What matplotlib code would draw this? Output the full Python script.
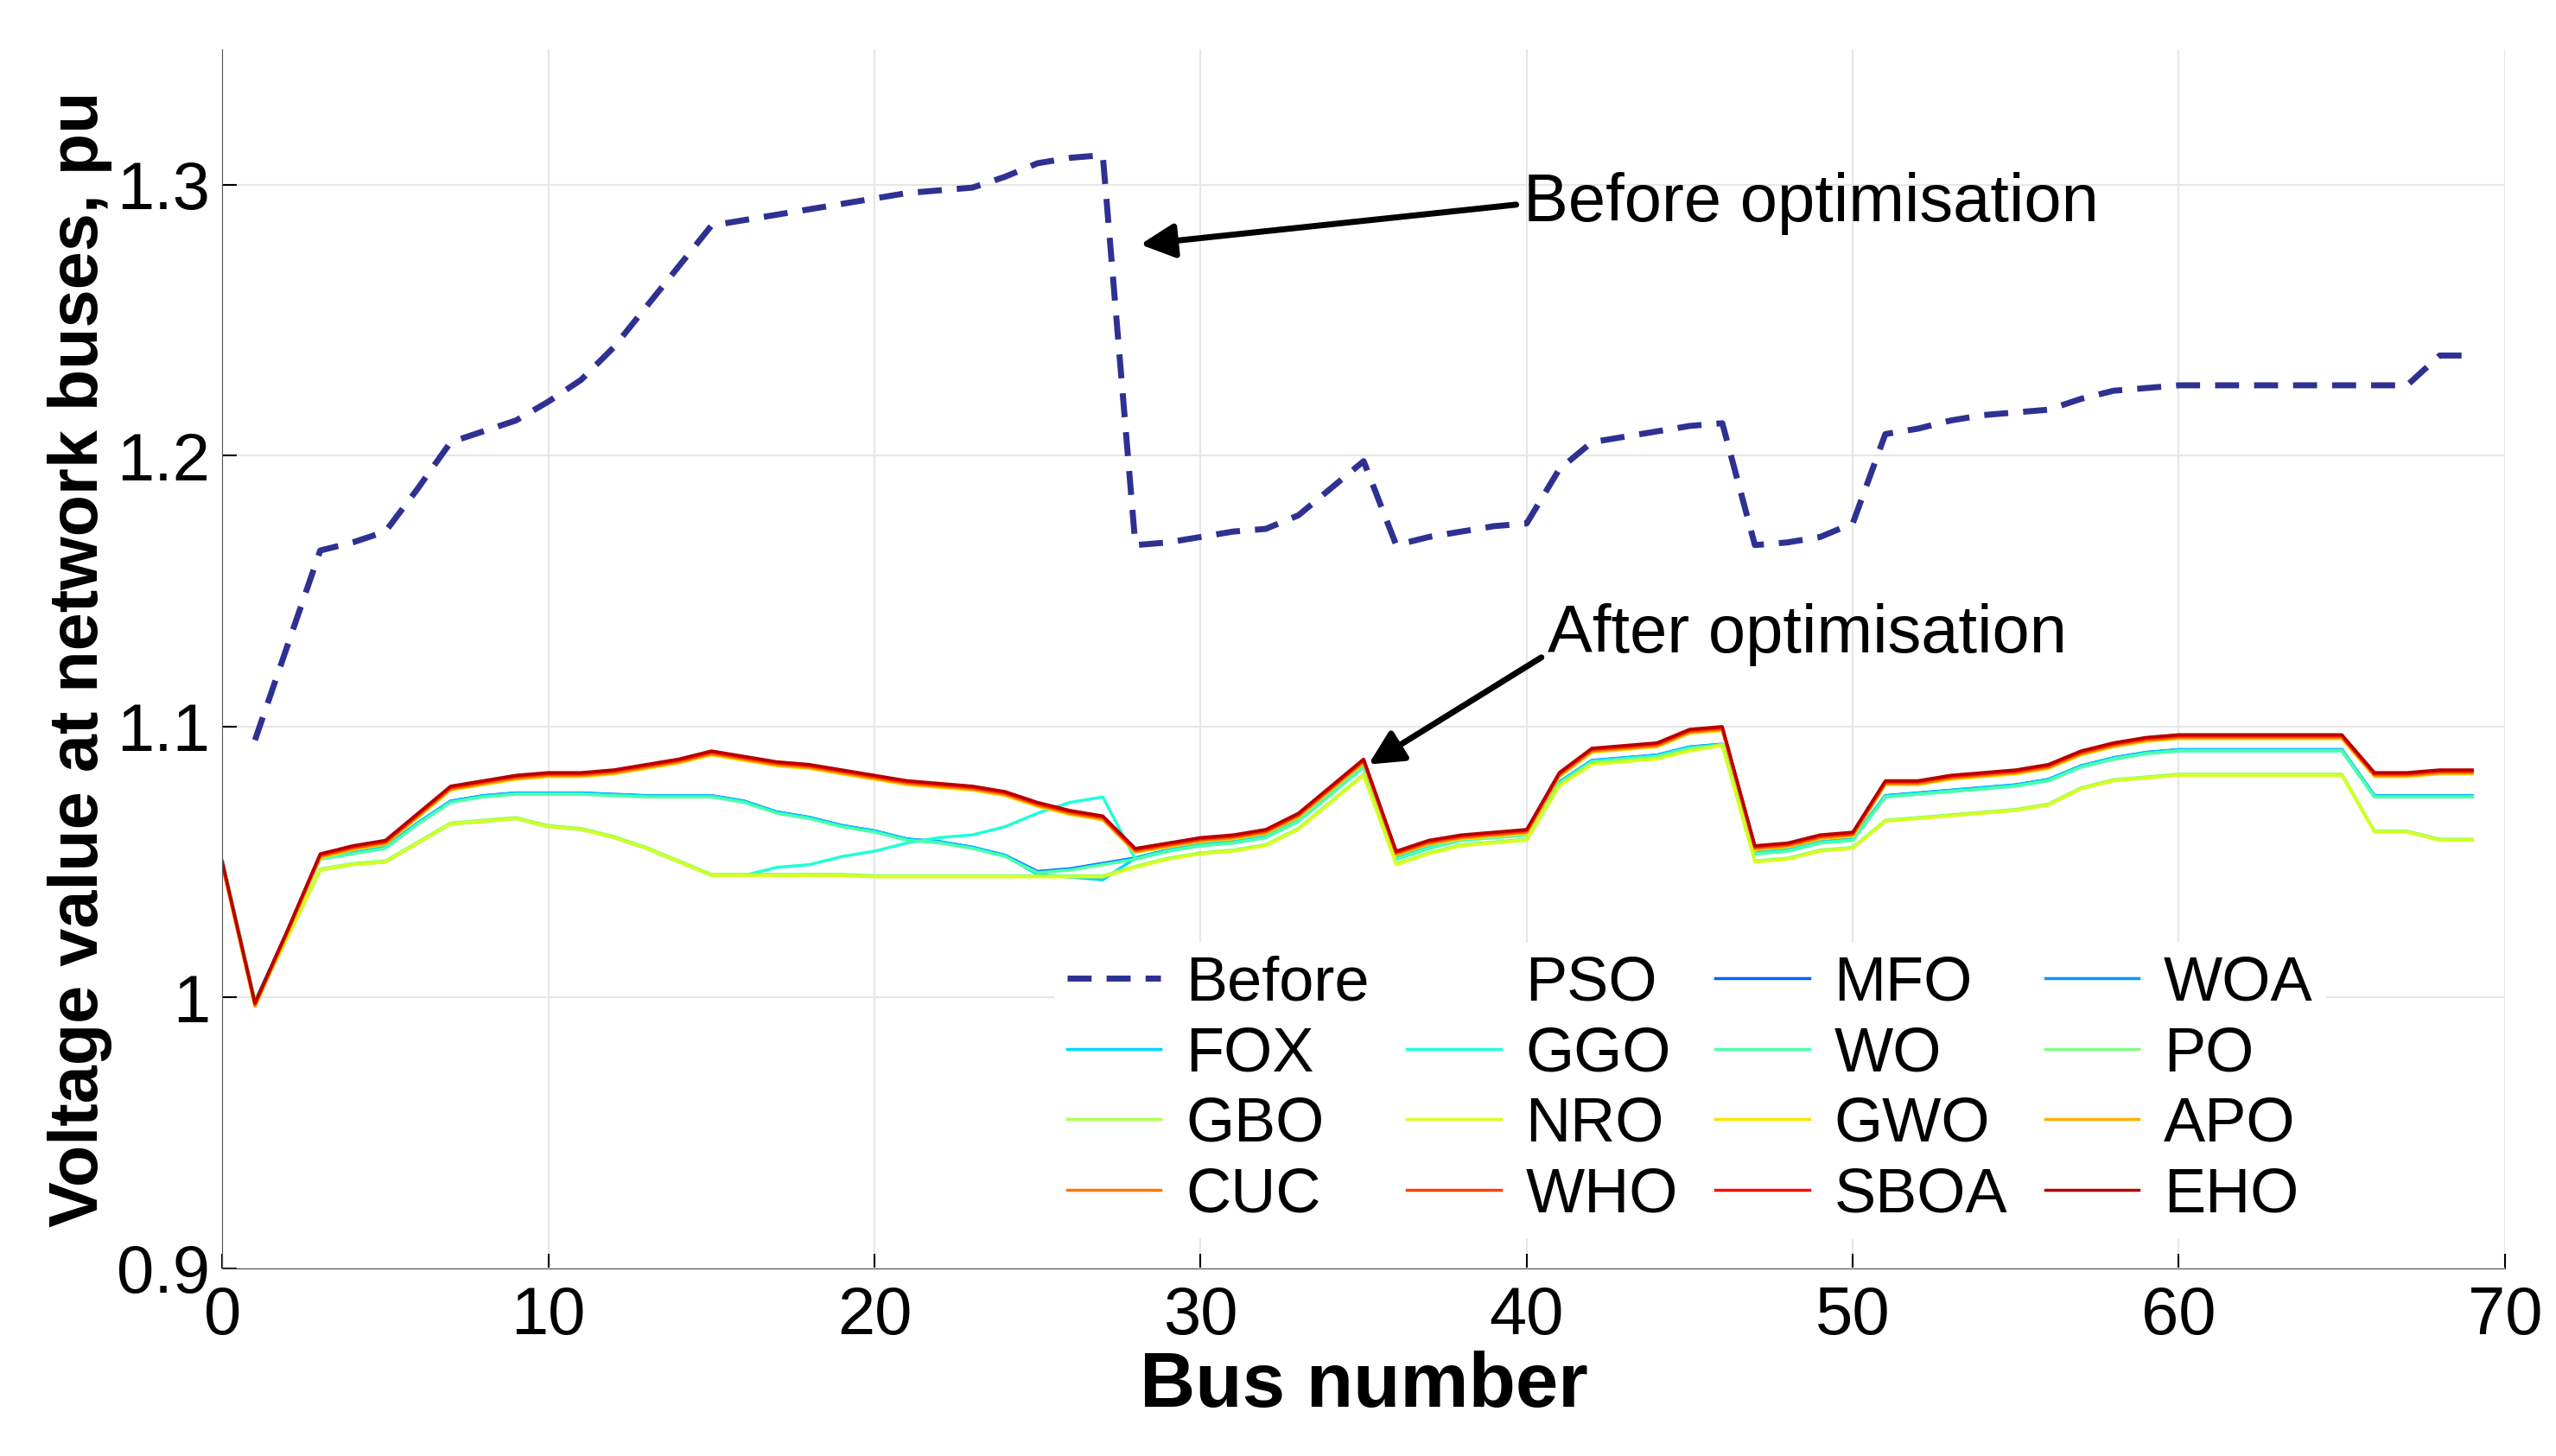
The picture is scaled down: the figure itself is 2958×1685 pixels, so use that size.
import numpy as np
import matplotlib
matplotlib.use("Agg")
import matplotlib.pyplot as plt

plt.rcParams['font.family'] = ['Liberation Sans', 'DejaVu Sans']

# bus numbers
bus = np.arange(0, 70)
bus_before = np.arange(1, 70)

before = [1.095, 1.130, 1.165, 1.168, 1.172, 1.188, 1.205, 1.209, 1.213, 1.220, 1.228, 1.240,
          1.255, 1.270, 1.285, 1.287, 1.289, 1.291, 1.293, 1.295, 1.297, 1.298, 1.299, 1.303,
          1.308, 1.310, 1.311, 1.167, 1.168, 1.170, 1.172, 1.173, 1.178, 1.188, 1.198, 1.167,
          1.170, 1.172, 1.174, 1.175, 1.195, 1.205, 1.207, 1.209, 1.211, 1.212, 1.167, 1.168,
          1.170, 1.175, 1.208, 1.210, 1.213, 1.215, 1.216, 1.217, 1.221, 1.224, 1.225, 1.226,
          1.226, 1.226, 1.226, 1.226, 1.226, 1.226, 1.226, 1.237, 1.237]

# three profiles the algorithms cluster on
high = [1.050, 0.998, 1.025, 1.053, 1.056, 1.058, 1.068, 1.078, 1.080, 1.082, 1.083, 1.083,
        1.084, 1.086, 1.088, 1.091, 1.089, 1.087, 1.086, 1.084, 1.082, 1.080, 1.079, 1.078,
        1.076, 1.072, 1.069, 1.067, 1.055, 1.057, 1.059, 1.060, 1.062, 1.068, 1.078, 1.088,
        1.054, 1.058, 1.060, 1.061, 1.062, 1.083, 1.092, 1.093, 1.094, 1.099, 1.100, 1.056,
        1.057, 1.060, 1.061, 1.080, 1.080, 1.082, 1.083, 1.084, 1.086, 1.091, 1.094, 1.096,
        1.097, 1.097, 1.097, 1.097, 1.097, 1.097, 1.083, 1.083, 1.084, 1.084]
mid = [1.050, 0.998, 1.024, 1.051, 1.053, 1.055, 1.064, 1.072, 1.074, 1.075, 1.075, 1.075,
       1.0745, 1.074, 1.074, 1.074, 1.072, 1.068, 1.066, 1.063, 1.061, 1.058, 1.057, 1.055,
       1.052, 1.046, 1.047, 1.049, 1.051, 1.054, 1.056, 1.057, 1.059, 1.065, 1.075, 1.085,
       1.051, 1.055, 1.058, 1.059, 1.060, 1.079, 1.087, 1.088, 1.089, 1.092, 1.093, 1.053,
       1.054, 1.057, 1.058, 1.074, 1.075, 1.076, 1.077, 1.078, 1.080, 1.085, 1.088, 1.090,
       1.091, 1.091, 1.091, 1.091, 1.091, 1.091, 1.074, 1.074, 1.074, 1.074]
low = [1.050, 0.998, 1.022, 1.047, 1.049, 1.050, 1.057, 1.064, 1.065, 1.066, 1.063, 1.062,
       1.059, 1.055, 1.050, 1.045, 1.045, 1.045, 1.045, 1.045, 1.0445, 1.0445, 1.0445, 1.0445,
       1.0445, 1.0445, 1.0445, 1.0445, 1.048, 1.051, 1.053, 1.054, 1.056, 1.062, 1.072, 1.082,
       1.049, 1.053, 1.056, 1.057, 1.058, 1.078, 1.086, 1.087, 1.088, 1.091, 1.093, 1.050,
       1.051, 1.054, 1.055, 1.065, 1.066, 1.067, 1.068, 1.069, 1.071, 1.077, 1.080, 1.081,
       1.082, 1.082, 1.082, 1.082, 1.082, 1.082, 1.061, 1.061, 1.058, 1.058]
# GGO leaves the low profile and climbs between buses 16 and 27
ggo = low[:16] + [1.045, 1.048, 1.049, 1.052, 1.054, 1.057, 1.059, 1.060, 1.063, 1.068,
                  1.072, 1.074] + mid[28:]
# FOX follows mid then drops between buses 25 and 27
fox = mid[:25] + [1.045, 1.044, 1.043] + mid[28:]

names = ["PSO", "MFO", "WOA", "FOX", "GGO", "WO", "PO", "GBO", "NRO",
         "GWO", "APO", "CUC", "WHO", "SBOA", "EHO"]
series = [high, mid, mid, fox, ggo, mid, low, low, low,
          high, high, high, high, high, high]
offset = [0, 0.0005, 0.0003, 0.0004, 0, 0, 0.0004, 0.0002, 0,
          -0.0015, -0.0012, -0.0009, -0.0006, -0.0003, 0]

fig = plt.figure(figsize=(29.58, 16.85), dpi=100)
ax = fig.add_axes([0.087, 0.129, 0.893, 0.837])

ax.plot(bus_before, before, '--', color='#2e3192', lw=5, dashes=(4, 2.5), label='Before')
cols = plt.cm.jet(np.linspace(0.22, 0.95, len(names) - 1))
for i, n in enumerate(names):
    c = 'white' if n == 'PSO' else cols[i - 1]
    ax.plot(bus, np.array(series[i]) + offset[i], color=c, lw=2.5, label=n)

ax.set_xlim(0, 70)
ax.set_ylim(0.9, 1.35)
ax.set_xticks(np.arange(0, 71, 10))
ax.set_yticks([0.9, 1.0, 1.1, 1.2, 1.3])
ax.set_yticklabels(['0.9', '1', '1.1', '1.2', '1.3'])
ax.tick_params(labelsize=56, direction='in', length=12, width=1.5)
ax.tick_params(axis='x', pad=14)
ax.tick_params(axis='y', pad=10)
ax.grid(True, color='#e6e6e6', lw=1.5)
ax.set_axisbelow(True)
for s in ['top', 'right']:
    ax.spines[s].set_visible(False)
ax.spines['left'].set_color('#555555')
ax.spines['bottom'].set_color('#555555')
ax.set_xlabel('Bus number', fontsize=64, fontweight='bold', labelpad=2)
ax.set_ylabel('Voltage value at network buses, pu', fontsize=57, fontweight='bold', labelpad=4)

ax.annotate('Before optimisation', xy=(28.15, 1.278), xytext=(39.9, 1.293),
            fontsize=56, va='center', ha='left',
            arrowprops=dict(arrowstyle='-|>', color='black', lw=5, mutation_scale=60,
                            relpos=(0, 0.5), shrinkA=4, shrinkB=0))
ax.annotate('After optimisation', xy=(35.15, 1.086), xytext=(40.65, 1.134),
            fontsize=56, va='center', ha='left',
            arrowprops=dict(arrowstyle='-|>', color='black', lw=5, mutation_scale=60,
                            relpos=(0, 0.2), shrinkA=4, shrinkB=0))

# legend is filled row by row in the reference
h, l = ax.get_legend_handles_labels()
order = [i + 4 * r for i in range(4) for r in range(4)]
leg = ax.legend([h[k] for k in order], [l[k] for k in order], ncol=4, loc='lower right',
                bbox_to_anchor=(0.935, 0.0), fontsize=52, frameon=True, handlelength=1.5,
                columnspacing=0.6, handletextpad=0.4, labelspacing=0.2, borderpad=0.2)
leg.get_frame().set_edgecolor('white')
leg.get_frame().set_alpha(1)

fig.savefig('out.png', dpi=100)
